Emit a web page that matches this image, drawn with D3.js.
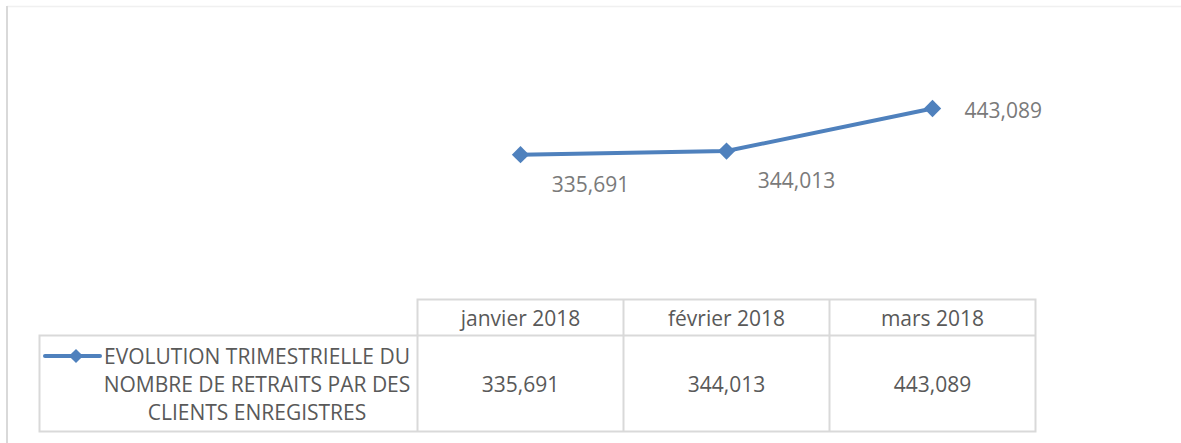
<!DOCTYPE html>
<html>
<head>
<meta charset="utf-8">
<script src="https://cdn.jsdelivr.net/npm/d3@7"></script>
<style>
  html, body { margin: 0; padding: 0; background: #fff; }
  svg text { font-family: "Open Sans", "Noto Sans", sans-serif; }
</style>
</head>
<body>
<svg id="chart" width="1181" height="443"></svg>
<script>
// --- data ---
const months = ['janvier 2018', 'février 2018', 'mars 2018'];
const retraits = [335691, 344013, 443089];
const seriesName = ['EVOLUTION TRIMESTRIELLE DU', 'NOMBRE DE RETRAITS PAR DES', 'CLIENTS ENREGISTRES'];

const LINE_COLOR = '#4f81bd';
const TEXT_COLOR = '#595959';
const LABEL_COLOR = '#7a7a7a';
const GRID_COLOR = '#d9d9d9';

const W = 1181, H = 443;
const TABLE_LEFT = 417.5, TABLE_RIGHT = 1035.5;
const TABLE_TOP = 299.5, HEADER_BOTTOM = 335.5, TABLE_BOTTOM = 431.5;
const LEGEND_LEFT = 39.5;

const svg = d3.select('#chart');
const fmt = d3.format(',');

const x = d3.scaleBand().domain(months).range([TABLE_LEFT, TABLE_RIGHT]).padding(0);
const y = d3.scaleLinear().domain([0, 500000]).range([299, 84]);
const cx = d => x(d) + x.bandwidth() / 2;

// chart area frame (only top and left edges show)
svg.append('line').attr('x1', 7).attr('x2', W).attr('y1', 6.5).attr('y2', 6.5)
  .attr('stroke', '#f0f0f0').attr('stroke-width', 1.5);
svg.append('line').attr('x1', 7).attr('x2', 7).attr('y1', 6).attr('y2', H)
  .attr('stroke', GRID_COLOR).attr('stroke-width', 2);

// --- series line ---
const pts = months.map((m, i) => ({ m, v: retraits[i] }));
const line = d3.line().x(d => cx(d.m)).y(d => y(d.v));

svg.append('path').datum(pts)
  .attr('d', line)
  .attr('fill', 'none')
  .attr('stroke', LINE_COLOR)
  .attr('stroke-width', 4)
  .attr('stroke-linejoin', 'round');

const diamond = d3.symbol().type(d3.symbolSquare).size(150);
svg.selectAll('.marker').data(pts).join('path')
  .attr('class', 'marker')
  .attr('d', diamond)
  .attr('transform', d => `translate(${cx(d.m)},${y(d.v)}) rotate(45)`)
  .attr('fill', LINE_COLOR);

// data labels: first two below-right, last to the right
const labelPos = ['below', 'below', 'right'];
svg.selectAll('.dlabel').data(pts).join('text')
  .attr('class', 'dlabel')
  .attr('x', (d, i) => labelPos[i] === 'right' ? cx(d.m) + 32 : cx(d.m) + 70)
  .attr('y', (d, i) => labelPos[i] === 'right' ? y(d.v) + 2 : y(d.v) + 29)
  .attr('text-anchor', (d, i) => labelPos[i] === 'right' ? 'start' : 'middle')
  .attr('dominant-baseline', 'central')
  .attr('fill', LABEL_COLOR)
  .style('font-size', '21px')
  .text(d => fmt(d.v));

// --- data table ---
const g = svg.append('g').attr('stroke', GRID_COLOR).attr('stroke-width', 2).attr('fill', 'none');
g.append('path').attr('d',
  `M${TABLE_LEFT},${HEADER_BOTTOM}V${TABLE_TOP}H${TABLE_RIGHT}V${TABLE_BOTTOM}H${LEGEND_LEFT}V${HEADER_BOTTOM}H${TABLE_RIGHT}`);
months.forEach((m, i) => {
  if (i === 0) return;
  g.append('line').attr('x1', x(m)).attr('x2', x(m)).attr('y1', TABLE_TOP).attr('y2', TABLE_BOTTOM);
});
g.append('line').attr('x1', TABLE_LEFT).attr('x2', TABLE_LEFT).attr('y1', HEADER_BOTTOM).attr('y2', TABLE_BOTTOM);

svg.selectAll('.hdr').data(months).join('text')
  .attr('class', 'hdr')
  .attr('x', d => cx(d))
  .attr('y', (TABLE_TOP + HEADER_BOTTOM) / 2)
  .attr('text-anchor', 'middle')
  .attr('dominant-baseline', 'central')
  .attr('fill', TEXT_COLOR)
  .style('font-size', '21px')
  .text(d => d);

svg.selectAll('.cell').data(pts).join('text')
  .attr('class', 'cell')
  .attr('x', d => cx(d.m))
  .attr('y', (HEADER_BOTTOM + TABLE_BOTTOM) / 2)
  .attr('text-anchor', 'middle')
  .attr('dominant-baseline', 'central')
  .attr('fill', TEXT_COLOR)
  .style('font-size', '21px')
  .text(d => fmt(d.v));

// legend key inside the row header
svg.append('line').attr('x1', 45).attr('x2', 100).attr('y1', 356).attr('y2', 356)
  .attr('stroke', LINE_COLOR).attr('stroke-width', 4).attr('stroke-linecap', 'round');
svg.append('path').attr('d', d3.symbol().type(d3.symbolSquare).size(100))
  .attr('transform', 'translate(76,356) rotate(45)').attr('fill', LINE_COLOR);

svg.selectAll('.leg').data(seriesName).join('text')
  .attr('class', 'leg')
  .attr('x', 257)
  .attr('y', (d, i) => 356 + i * 28)
  .attr('text-anchor', 'middle')
  .attr('dominant-baseline', 'central')
  .attr('fill', TEXT_COLOR)
  .style('font-size', '21px')
  .text(d => d);
</script>
</body>
</html>
